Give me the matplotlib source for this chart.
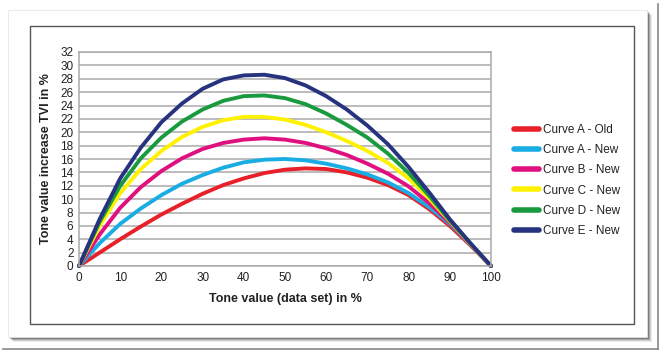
import matplotlib
matplotlib.use("Agg")
import matplotlib.pyplot as plt
from matplotlib.patches import Rectangle
from matplotlib.lines import Line2D

plt.rcParams['font.family'] = ['Liberation Sans Narrow', 'Liberation Sans', 'DejaVu Sans']

tone = [0, 5, 10, 15, 20, 25, 30, 35, 40, 45, 50, 55, 60, 65, 70, 75, 80, 85, 90, 95, 100]
curve_a_old = [0, 2.0, 4.0, 5.9, 7.7, 9.3, 10.8, 12.1, 13.1, 13.9, 14.4, 14.6, 14.5, 14.0, 13.2, 12.1, 10.6, 8.5, 6.0, 3.1, 0]
curve_a_new = [0, 3.4, 6.3, 8.6, 10.6, 12.3, 13.6, 14.7, 15.5, 15.9, 16.0, 15.8, 15.3, 14.6, 13.7, 12.5, 10.9, 8.8, 6.3, 3.2, 0]
curve_b_new = [0, 4.7, 8.7, 11.8, 14.2, 16.1, 17.5, 18.4, 18.9, 19.1, 18.9, 18.4, 17.6, 16.6, 15.3, 13.8, 11.9, 9.4, 6.5, 3.2, 0]
curve_c_new = [0, 6.0, 10.9, 14.5, 17.2, 19.3, 20.8, 21.8, 22.3, 22.3, 21.9, 21.1, 20.0, 18.7, 17.2, 15.4, 13.1, 10.1, 6.7, 3.3, 0]
curve_d_new = [0, 6.6, 12.0, 16.1, 19.2, 21.6, 23.4, 24.7, 25.4, 25.5, 25.1, 24.2, 22.8, 21.1, 19.2, 16.8, 13.9, 10.5, 6.8, 3.4, 0]
curve_e_new = [0, 7.0, 13.1, 17.7, 21.5, 24.3, 26.5, 27.9, 28.5, 28.6, 28.1, 27.0, 25.4, 23.4, 21.0, 18.2, 14.8, 11.0, 7.0, 3.4, 0]

labels = ["Curve A - Old", "Curve A - New", "Curve B - New",
          "Curve C - New", "Curve D - New", "Curve E - New"]
series = [curve_a_old, curve_a_new, curve_b_new, curve_c_new, curve_d_new, curve_e_new]
colors = ["#e8202a", "#1aade4", "#e0107f", "#fff200", "#1a9a3e", "#27337e"]

x_ticks = list(range(0, 101, 10))
y_ticks = list(range(0, 33, 2))

W, H = 661, 352
fig = plt.figure(figsize=(W / 100, H / 100), dpi=100)
fig.patch.set_facecolor("white")

def fx(px):
    return px / W

def fy(py):
    return 1 - py / H

# outer border lines (image edge)
fig.add_artist(Line2D([fx(658), fx(658)], [fy(4), fy(349)], color="#888888", lw=1.2, zorder=-20))
fig.add_artist(Line2D([fx(3), fx(658)], [fy(349), fy(349)], color="#888888", lw=1.2, zorder=-20))

# card shadow
for i, a in enumerate([0.08, 0.12, 0.18, 0.26, 0.34]):
    off = 5 - i
    fig.add_artist(Rectangle((fx(8 + off), fy(337 + off)), fx(639), 1 - fy(327),
                             facecolor="#000000", alpha=a, edgecolor="none", lw=0, zorder=-19))
# card
fig.add_artist(Rectangle((fx(8), fy(337)), fx(639), 1 - fy(327),
                         facecolor="white", edgecolor="#e6e6e6", lw=0.6, zorder=-18))
# inner frame
fig.add_artist(Rectangle((fx(29.5), fy(323.5)), fx(604), 1 - fy(297.5),
                         facecolor="none", edgecolor="#555555", lw=1.0, zorder=-17))

ax = fig.add_axes([fx(79), fy(266), fx(491) - fx(79), fy(52) - fy(266)])
ax.set_zorder(5)
ax.set_xlim(0, 100)
ax.set_ylim(0, 32)
ax.set_xticks(x_ticks)
ax.set_yticks(y_ticks)
ax.tick_params(length=0, labelsize=8.5, colors="#222222", pad=4)
ax.yaxis.grid(True, color="#aaaaaa", lw=1.1)
ax.set_axisbelow(True)
for s in ax.spines.values():
    s.set_color("#aaaaaa")
    s.set_linewidth(1.1)

handles = []
for vals, lab, c in zip(series, labels, colors):
    h, = ax.plot(tone, vals, color=c, lw=2.8, solid_joinstyle="round",
                 solid_capstyle="round", label=lab, clip_on=False)
    handles.append(h)

ax.set_xlabel("Tone value (data set) in %", fontsize=9, fontweight="bold",
              color="#222222", labelpad=7)
ax.set_ylabel("Tone value increase TVI in %", fontsize=9, fontweight="bold",
              color="#222222", labelpad=6)

leg = fig.legend(handles=handles, labels=labels, loc="upper left",
                 bbox_to_anchor=(fx(509), fy(119)), frameon=False,
                 fontsize=8.5, handlelength=2.1, handletextpad=0.4,
                 labelspacing=0.7, borderaxespad=0)
leg.set_zorder(6)
for line in leg.get_lines():
    line.set_linewidth(4)
for t in leg.get_texts():
    t.set_color("#222222")

fig.savefig("out.png", dpi=100, facecolor="white")
